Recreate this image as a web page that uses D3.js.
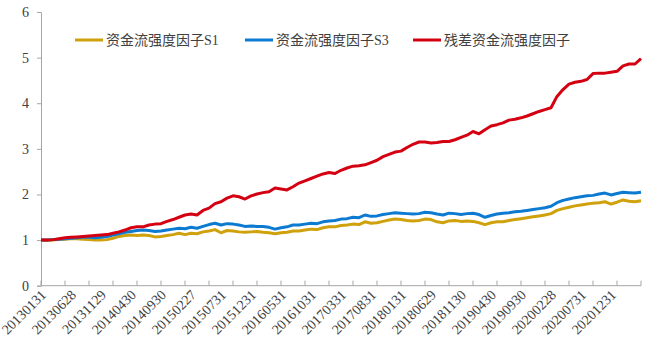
<!DOCTYPE html>
<html>
<head>
<meta charset="utf-8">
<script src="https://cdn.jsdelivr.net/npm/d3@7"></script>
<style>
  body { margin: 0; background: #fff; }
  svg { display: block; }
</style>
</head>
<body>
<div id="chart"></div>
<script>
// month-end trading days, 2013-01 .. 2021-05
const dates = [
  "20130131","20130228","20130329","20130430","20130531","20130628","20130731","20130830","20130930","20131031","20131129","20131231",
  "20140130","20140228","20140331","20140430","20140530","20140630","20140731","20140829","20140930","20141031","20141128","20141231",
  "20150130","20150227","20150331","20150430","20150529","20150630","20150731","20150831","20150930","20151030","20151130","20151231",
  "20160129","20160229","20160331","20160429","20160531","20160630","20160729","20160831","20160930","20161031","20161130","20161230",
  "20170126","20170228","20170331","20170428","20170531","20170630","20170731","20170831","20170929","20171031","20171130","20171229",
  "20180131","20180228","20180330","20180427","20180531","20180629","20180731","20180831","20180928","20181031","20181130","20181228",
  "20190131","20190228","20190329","20190430","20190531","20190628","20190731","20190830","20190930","20191031","20191129","20191231",
  "20200123","20200228","20200331","20200430","20200529","20200630","20200731","20200831","20200930","20201030","20201130","20201231",
  "20210129","20210226","20210331","20210430","20210531"
];

const s1 = [
  1.00,0.99,1.00,1.01,1.02,1.03,1.03,1.02,1.01,1.00,1.00,1.01,
  1.04,1.08,1.10,1.11,1.10,1.11,1.10,1.07,1.08,1.10,1.12,1.15,
  1.12,1.15,1.14,1.18,1.20,1.23,1.16,1.21,1.20,1.18,1.17,1.18,
  1.19,1.17,1.16,1.14,1.16,1.17,1.20,1.20,1.22,1.24,1.23,1.27,
  1.29,1.29,1.32,1.33,1.35,1.34,1.40,1.37,1.38,1.41,1.44,1.46,
  1.45,1.43,1.42,1.43,1.46,1.45,1.40,1.38,1.42,1.43,1.41,1.42,
  1.41,1.38,1.34,1.38,1.40,1.40,1.43,1.45,1.47,1.49,1.51,1.53,
  1.55,1.58,1.65,1.69,1.72,1.75,1.77,1.79,1.81,1.82,1.84,1.79,
  1.83,1.88,1.85,1.84,1.86
];

const s3 = [
  1.00,1.00,1.01,1.02,1.03,1.04,1.05,1.06,1.06,1.05,1.06,1.08,
  1.11,1.14,1.17,1.19,1.21,1.22,1.21,1.19,1.20,1.22,1.24,1.26,
  1.25,1.28,1.26,1.30,1.34,1.37,1.33,1.36,1.35,1.33,1.30,1.31,
  1.30,1.30,1.28,1.24,1.27,1.29,1.33,1.33,1.35,1.37,1.36,1.40,
  1.42,1.43,1.46,1.47,1.50,1.49,1.55,1.52,1.53,1.56,1.58,1.60,
  1.59,1.58,1.57,1.58,1.61,1.60,1.57,1.55,1.59,1.58,1.56,1.58,
  1.59,1.56,1.50,1.54,1.57,1.59,1.60,1.62,1.63,1.65,1.67,1.69,
  1.71,1.74,1.82,1.87,1.90,1.93,1.95,1.97,1.98,2.01,2.03,1.99,
  2.02,2.05,2.04,2.03,2.05
];

const resid = [
  1.00,1.00,1.01,1.03,1.05,1.06,1.07,1.08,1.09,1.10,1.11,1.12,
  1.15,1.18,1.22,1.27,1.29,1.29,1.33,1.35,1.36,1.41,1.45,1.50,
  1.55,1.57,1.55,1.65,1.70,1.80,1.84,1.92,1.97,1.95,1.90,1.97,
  2.01,2.04,2.06,2.14,2.12,2.10,2.17,2.25,2.30,2.35,2.40,2.45,
  2.48,2.46,2.53,2.58,2.62,2.63,2.65,2.70,2.75,2.83,2.88,2.93,
  2.95,3.03,3.10,3.15,3.15,3.13,3.14,3.16,3.16,3.20,3.25,3.30,
  3.38,3.33,3.42,3.50,3.53,3.57,3.63,3.65,3.68,3.72,3.77,3.82,
  3.86,3.90,4.15,4.30,4.42,4.46,4.48,4.52,4.65,4.66,4.66,4.68,
  4.70,4.82,4.86,4.86,4.98
];

const seriesNames = ["资金流强度因子S1", "资金流强度因子S3", "残差资金流强度因子"];
const seriesColors = ["#CFA10C", "#0D7AD2", "#D40012"];
const yTicks = [0, 1, 2, 3, 4, 5, 6];
const labelEvery = 5;
const tickEvery = 4;

const W = 648, H = 351;
const svg = d3.select("#chart").append("svg").attr("width", W).attr("height", H);

const x = d3.scaleLinear().domain([0, dates.length - 1]).range([41, 641]);
const y = d3.scaleLinear().domain([0, 6]).range([285.7, 12]);

const axisColor = "#a6a6a6";
const textColor = "#404040";
const serif = "'Liberation Serif', 'Times New Roman', serif";

// y axis
const yAxis = svg.append("g").attr("transform", "translate(41,0)")
  .call(d3.axisLeft(y).tickValues(yTicks).tickSize(4).tickPadding(8).tickFormat(d3.format("d")));
yAxis.select(".domain").attr("stroke", axisColor);
yAxis.selectAll(".tick line").attr("stroke", axisColor);
yAxis.selectAll("text").attr("fill", textColor).style("font-family", serif).style("font-size", "14px");

// x axis (category style, ticks inside)
const xg = svg.append("g");
xg.append("line").attr("x1", x(0)).attr("x2", x(dates.length - 1))
  .attr("y1", y(0)).attr("y2", y(0)).attr("stroke", axisColor);
const tickIdx = d3.range(0, dates.length, tickEvery);
xg.selectAll("line.tk").data(tickIdx).join("line").attr("class", "tk")
  .attr("x1", d => x(d)).attr("x2", d => x(d))
  .attr("y1", y(0)).attr("y2", y(0) - 5).attr("stroke", axisColor);
const labelIdx = d3.range(0, dates.length - 1, labelEvery);
xg.selectAll("text").data(labelIdx).join("text")
  .attr("transform", d => `translate(${x(d) + 6},${y(0) + 10}) rotate(-45)`)
  .attr("text-anchor", "end")
  .attr("fill", textColor)
  .style("font-family", serif).style("font-size", "14px")
  .text(d => dates[d]);

// lines
const allSeries = [s1, s3, resid];
const line = d3.line().x((d, i) => x(i)).y(d => y(d));
svg.append("g").selectAll("path").data(allSeries).join("path")
  .attr("d", line)
  .attr("fill", "none")
  .attr("stroke", (d, i) => seriesColors[i])
  .attr("stroke-width", 3)
  .attr("stroke-linejoin", "round");

// legend
const legendX = [75, 245, 413];
const lg = svg.append("g");
seriesNames.forEach((name, i) => {
  lg.append("line").attr("x1", legendX[i]).attr("x2", legendX[i] + 28)
    .attr("y1", 40).attr("y2", 40)
    .attr("stroke", seriesColors[i]).attr("stroke-width", 3);
  lg.append("text").attr("x", legendX[i] + 31).attr("y", 45)
    .attr("fill", textColor)
    .style("font-family", "'Liberation Serif', 'Noto Sans CJK SC', serif")
    .style("font-size", "14px")
    .text(name);
});
</script>
</body>
</html>
